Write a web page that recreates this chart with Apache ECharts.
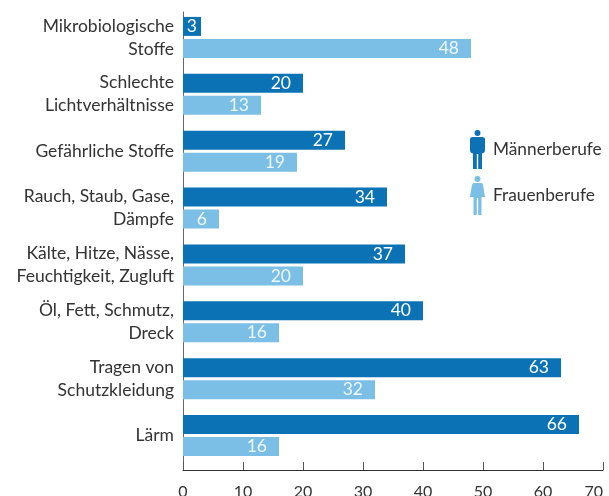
<!DOCTYPE html>
<html>
<head>
<meta charset="utf-8">
<style>html,body{margin:0;padding:0;background:#fff}#chart{width:609px;height:496px}</style>
<script src="https://cdn.jsdelivr.net/npm/echarts@6/dist/echarts.min.js"></script>
</head>
<body>
<div id="chart"></div>
<script>
const categories = [
  'Mikrobiologische\nStoffe',
  'Schlechte\nLichtverhältnisse',
  'Gefährliche Stoffe',
  'Rauch, Staub, Gase,\nDämpfe',
  'Kälte, Hitze, Nässe,\nFeuchtigkeit, Zugluft',
  'Öl, Fett, Schmutz,\nDreck',
  'Tragen von\nSchutzkleidung',
  'Lärm'
];
const maennerberufe = [3, 20, 27, 34, 37, 40, 63, 66];
const frauenberufe = [48, 13, 19, 6, 20, 16, 32, 16];

const fontFamily = 'Lato, "Open Sans", sans-serif';
const manIcon = 'path://M7.5 0a3 3 0 1 1 0 6a3 3 0 1 1 0-6zM2.5 7H12.5Q15 7 15 9.5V20Q15 23 12 23.5V39H8.2V24H6.8V39H3V23.5Q0 23 0 20V9.5Q0 7 2.5 7z';
const womanIcon = 'path://M7.5 0a3 3 0 1 1 0 6a3 3 0 1 1 0-6zM4 7H11Q13 7 13.4 11L15 21H11.5V39H8.2V22H6.8V39H3.5V21H0L1.6 11Q2 7 4 7z';

// Werte mit kurzem Balken brauchen weniger Abstand zum Balkenende
const toItems = values => values.map(v => v < 5 ? { value: v, label: { distance: 4 } } : v);

const barLabel = color => ({
  show: true,
  position: 'insideRight',
  distance: 12,
  color: color,
  fontFamily: fontFamily,
  fontSize: 17.5
});

const chart = echarts.init(document.getElementById('chart'));
chart.setOption({
  animation: false,
  // erstes Grid: Balken, zweites Grid: sichtbarer Achsenrahmen
  grid: [
    { left: 183, top: 9, width: 420, height: 455, outerBoundsMode: 'none' },
    { left: 183, top: 12, width: 420, height: 458, outerBoundsMode: 'none' }
  ],
  legend: {
    orient: 'vertical',
    left: 465,
    top: 125,
    itemWidth: 15,
    itemHeight: 39,
    itemGap: 7,
    selectedMode: false,
    textStyle: { color: '#333', fontFamily: fontFamily, fontSize: 17.3, padding: [0, 0, 0, 3] },
    data: [
      { name: 'Männerberufe', icon: manIcon },
      { name: 'Frauenberufe', icon: womanIcon }
    ]
  },
  xAxis: [
    { gridIndex: 0, type: 'value', min: 0, max: 70, show: false },
    {
      gridIndex: 1, type: 'value', min: 0, max: 70, interval: 10,
      axisLine: { show: true, lineStyle: { color: '#333', width: 1 } },
      axisTick: { show: true, inside: true, length: 8, lineStyle: { color: '#555', width: 1 } },
      axisLabel: { color: '#333', fontFamily: fontFamily, fontSize: 16, margin: 14, hideOverlap: false, alignMaxLabel: 'right' },
      splitLine: { show: false }
    }
  ],
  yAxis: [
    {
      gridIndex: 0, type: 'category', inverse: true, data: categories,
      axisLine: { show: false },
      axisTick: { show: false },
      axisLabel: { color: '#333', fontFamily: fontFamily, fontSize: 17.5, lineHeight: 23, margin: 9, align: 'right', interval: 0 }
    },
    {
      gridIndex: 1, type: 'value', min: 0, max: 1,
      axisLine: { show: true, lineStyle: { color: '#666', width: 1 } },
      axisTick: { show: false },
      axisLabel: { show: false },
      splitLine: { show: false }
    }
  ],
  series: [
    {
      name: 'Männerberufe', type: 'bar', xAxisIndex: 0, yAxisIndex: 0,
      data: toItems(maennerberufe),
      barWidth: 19, barGap: '16%',
      itemStyle: { color: '#0b72b5' },
      label: barLabel('#ffffff')
    },
    {
      name: 'Frauenberufe', type: 'bar', xAxisIndex: 0, yAxisIndex: 0,
      data: toItems(frauenberufe),
      barWidth: 19, barGap: '16%',
      itemStyle: { color: '#7bbfe6' },
      label: barLabel('#eef7fc')
    }
  ]
});
</script>
</body>
</html>
